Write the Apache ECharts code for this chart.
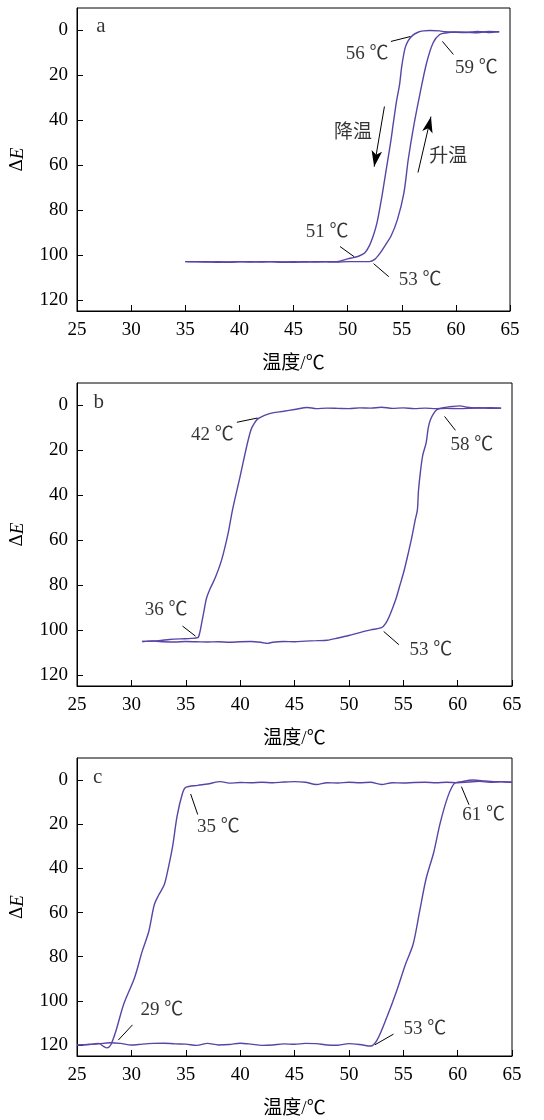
<!DOCTYPE html>
<html><head><meta charset="utf-8">
<script src="https://cdn.jsdelivr.net/npm/echarts@6/dist/echarts.min.js"></script>
<style>html,body{margin:0;padding:0;background:#fff}#c{width:544px;height:1120px}</style>
</head><body><div id="c"></div>
<script>
// ---- data ----
const yTickValues = [0, 20, 40, 60, 80, 100, 120];
const xTickValues = [25, 30, 35, 40, 45, 50, 55, 60, 65];
const panelNames = ['a', 'b', 'c'];
const xName = '温度/℃';

// panel a
const aCooling = [[64,0.6],[63,0.9],[62,0.5],[61,0.9],[60,0.8],[59,0.6],[58.5,0.2],[57.6,0],[57,0.2],[56.5,0.8],[56,2.2],[55.6,4.5],[55.3,8],[55.0,16],[54.8,24],[54.5,32],[54.2,42],[54.0,49],[53.7,58],[53.5,64],[53.2,73],[53.0,78.5],[52.7,86],[52.4,91],[52.0,96],[51.6,99],[51.0,100.6],[50.5,101.2],[50.0,101.8],[49.5,102.5],[49,103],[48,103],[47,103.2],[46,103],[45,103.3],[44,103.1],[43,103],[42,103.2],[41,103],[40,103.1],[39,103.3],[38,103],[37,103.2],[36,103],[35,103]];
const aHeating = [[35,103],[36,103.1],[37,103],[38,103.3],[39,103.1],[40,103],[41,103.2],[42,103],[43,103.1],[44,103.3],[45,103],[46,103.2],[47,103],[48,103.1],[49,103.2],[50,103],[51,103],[52,103],[52.5,102],[53,99.2],[53.5,95.5],[54,91.7],[54.6,84.3],[55.2,72.4],[55.6,57.5],[56.1,42.7],[56.7,27.8],[57.3,14.4],[57.9,5.5],[58.5,1.8],[59.2,1.0],[59.8,0.7],[61,0.8],[62,1.0],[63,0.4],[64,0.6]];
const aTexts = [['56 ℃',51.8,10.7],['59 ℃',61.9,16.9],['降温',50.5,45.5],['升温',59.3,56.2],['51 ℃',48.1,89.7],['53 ℃',56.7,111]];
const aLeaders = [[54.0,4.9,55.8,2.7],[58.76,4.9,59.77,10.7],[49.3,96.3,50.6,100.8],[52.4,103.9,53.8,109.7]];
const aArrows = [[53.4,33.9,52.45,60.7],[56.5,63.3,57.7,38.4]];

// panel b
const bCooling = [[64,1.2],[63,1.3],[62,1.0],[61,1.3],[60,1.4],[59,1.3],[58,1.4],[57,1.2],[56,1.4],[55,1.1],[54,1.3],[53,0.8],[52,1.2],[51,1.1],[50,1.4],[49,1.3],[48,1.2],[47,1.4],[46.2,0.9],[45,1.8],[44,2.6],[43,3.3],[42.5,4],[42,5],[41.6,6.1],[41.3,8],[41.0,10.8],[40.6,18.3],[40.0,31.6],[39.3,46.5],[38.9,56.9],[38.3,68.8],[37.7,76.9],[37.2,82.1],[36.9,86],[36.7,91],[36.5,96],[36.3,101],[36.1,103.5],[35.5,103.8],[34.5,104],[33.5,104.3],[32.5,104.8],[31.5,105],[31,105.2]];
const bHeating = [[31,105.2],[32,105],[33,105.3],[34,105.4],[35,105.2],[36,105.3],[37,105.4],[38,105.3],[39,105.5],[40,105.3],[41,105.2],[42,105.6],[42.5,106],[43,105.5],[44,105.2],[45,105.3],[46,105],[47,104.8],[48,104.6],[49,103.6],[50,102.5],[51,101.2],[52,100],[53,99],[53.4,97],[53.8,93],[54.3,86.6],[54.7,80],[55.1,73.2],[55.5,65],[55.8,58.4],[56.1,51],[56.3,46.5],[56.4,38],[56.6,28.7],[56.8,22],[57.1,16.8],[57.3,10],[57.5,6.4],[57.8,3.5],[58.1,1.9],[58.7,1],[59.6,0.4],[60.2,0.2],[60.9,0.8],[62,1.2],[63,1.0],[64,1.2]];
const bTexts = [['42 ℃',37.45,13.1],['58 ℃',61.3,17.5],['36 ℃',33.2,91.0],['53 ℃',57.55,108.9]];
const bLeaders = [[39.7,7.5,41.6,5.6],[58.8,4.9,59.8,11.1],[34.7,98.3,35.9,102.8],[53.2,100.7,54.6,106.6]];
const bArrows = [];

// panel c
const cCooling = [[65,1.0],[64,0.7],[63,1.0],[62,0.6],[61,0.9],[60,1.2],[59,1.0],[58,1.2],[57,1.0],[56,1.1],[55,1.3],[54,1.2],[53,2.0],[52,1.0],[51,1.2],[50,1.0],[49,1.3],[48,1.2],[47,2.0],[46,1.0],[45,0.7],[44,0.9],[43,1.2],[42,1.0],[41,1.2],[40,1.1],[39,1.4],[38.2,0.7],[37,1.8],[36.1,2.4],[35,3.3],[34.7,6],[34.2,16.4],[33.8,29.8],[33.3,42],[33.0,47.7],[32.5,52.2],[32.1,56.6],[31.6,68.6],[31.0,77.5],[30.3,89.4],[29.3,101.4],[28.6,113.3],[28.1,120],[27.75,121.3],[27.4,120.5],[27.0,119.3],[26.5,119.6],[26,119.8],[25.5,119.9],[25,120]];
const cHeating = [[25,120],[26,119.8],[27,119.5],[28,119.0],[29,119.3],[30,120.0],[31,119.6],[32,119.3],[33,119.2],[34,119.5],[35,119.6],[36,120.2],[37,119.3],[38,120.0],[39,119.8],[40,119.2],[41,119.6],[42,120.2],[43,120],[44,119.5],[45,119.7],[46,119.3],[47,119.4],[48,120.0],[49,120.1],[50,119.4],[51,119.8],[52,120.5],[52.6,117.7],[53.5,107.3],[54.4,95.4],[55.2,83.5],[55.9,74.5],[56.5,59.6],[57.1,44.7],[57.8,32.8],[58.4,19.4],[59.1,7.5],[59.7,1.5],[60.4,0.7],[61.4,0],[62.5,0.4],[63.3,0.7],[64,0.8],[65,1.0]];
const cTexts = [['35 ℃',38.0,21.2],['61 ℃',62.4,15.7],['29 ℃',32.8,104.1],['53 ℃',57.0,113]];
const cLeaders = [[35.45,6.3,36.1,15.6],[60.35,3,61.05,11.2],[30.1,110.9,28.8,117.8],[54.1,115.1,52.4,119.9]];
const cArrows = [];

// panel letters (data coordinates)
const panelLabelPos = [[27.2,-1.8],[27.0,-1.2],[26.9,-1.3]];

// ---- chart ----
const FONT = "'Liberation Serif', 'Noto Sans CJK SC', serif";
const LINE = '#5a44a6';
const FS = 19;
const grids = [
  {left: 73, top: 8, width: 437, height: 303},
  {left: 75, top: 383, width: 437, height: 303},
  {left: 76, top: 758, width: 436, height: 302}
];
const panels = [
  {cool: aCooling, heat: aHeating, texts: aTexts, leaders: aLeaders, arrows: aArrows},
  {cool: bCooling, heat: bHeating, texts: bTexts, leaders: bLeaders, arrows: bArrows},
  {cool: cCooling, heat: cHeating, texts: cTexts, leaders: cLeaders, arrows: cArrows}
];

const option = {
  animation: false,
  backgroundColor: '#fff',
  grid: grids.map(g => Object.assign({show: true, borderColor: '#000', borderWidth: 1, backgroundColor: 'transparent'}, g)),
  xAxis: grids.map((g, i) => ({
    type: 'value', gridIndex: i, min: 25, max: 65, interval: 5,
    name: xName, nameLocation: 'middle', nameGap: 44,
    nameTextStyle: {fontFamily: FONT, fontSize: FS, color: '#000'},
    axisLine: {show: true, onZero: false, lineStyle: {color: '#000', width: 1}},
    axisTick: {show: true, inside: true, length: 6, lineStyle: {color: '#000'}},
    axisLabel: {color: '#000', fontFamily: FONT, fontSize: FS, margin: 10, showMinLabel: true, showMaxLabel: true},
    splitLine: {show: false}
  })),
  yAxis: grids.map((g, i) => ({
    type: 'value', gridIndex: i, min: -10, max: 125, inverse: true,
    name: '{d|Δ}{e|E}', nameLocation: 'middle', nameGap: 50,
    nameTextStyle: {rich: {d: {fontFamily: FONT, fontSize: FS, color: '#000'}, e: {fontFamily: FONT, fontSize: FS, fontStyle: 'italic', color: '#000'}}},
    axisLine: {show: true, onZero: false, lineStyle: {color: '#000', width: 1}},
    axisTick: {show: true, inside: true, length: 6, customValues: yTickValues, lineStyle: {color: '#000'}},
    axisLabel: {color: '#000', fontFamily: FONT, fontSize: FS, margin: 9, customValues: yTickValues},
    splitLine: {show: false}
  })),
  series: []
};

panels.forEach((p, i) => {
  const lineStyle = {color: LINE, width: 1.4};
  option.series.push({type: 'line', xAxisIndex: i, yAxisIndex: i, data: p.heat, showSymbol: false, symbol: 'none', smooth: 0.3, lineStyle});
  option.series.push({type: 'line', xAxisIndex: i, yAxisIndex: i, data: p.cool, showSymbol: false, symbol: 'none', smooth: 0.3, lineStyle});
  const ml = p.leaders.map(l => [{coord: [l[0], l[1]], symbol: 'none'}, {coord: [l[2], l[3]], symbol: 'none'}])
    .concat(p.arrows.map(l => [{coord: [l[0], l[1]], symbol: 'none'}, {coord: [l[2], l[3]], symbol: 'arrow', symbolSize: [8, 16]}]));
  option.series.push({
    type: 'scatter', xAxisIndex: i, yAxisIndex: i, symbolSize: 0, silent: true,
    data: p.texts.map(t => ({name: t[0], value: [t[1], t[2]]})),
    label: {show: true, position: 'inside', formatter: '{b}', color: '#000', fontFamily: FONT, fontSize: FS},
    markLine: {silent: true, animation: false, symbol: ['none', 'none'], label: {show: false},
      lineStyle: {color: '#000', width: 1, type: 'solid'}, data: ml}
  });
  option.series.push({
    type: 'scatter', xAxisIndex: i, yAxisIndex: i, symbolSize: 0, silent: true,
    data: [{name: panelNames[i], value: panelLabelPos[i]}],
    label: {show: true, position: 'inside', formatter: '{b}', color: '#000', fontFamily: FONT, fontSize: 21}
  });
});

const chart = echarts.init(document.getElementById('c'), null, {renderer: 'canvas'});
chart.setOption(option);
</script></body></html>
